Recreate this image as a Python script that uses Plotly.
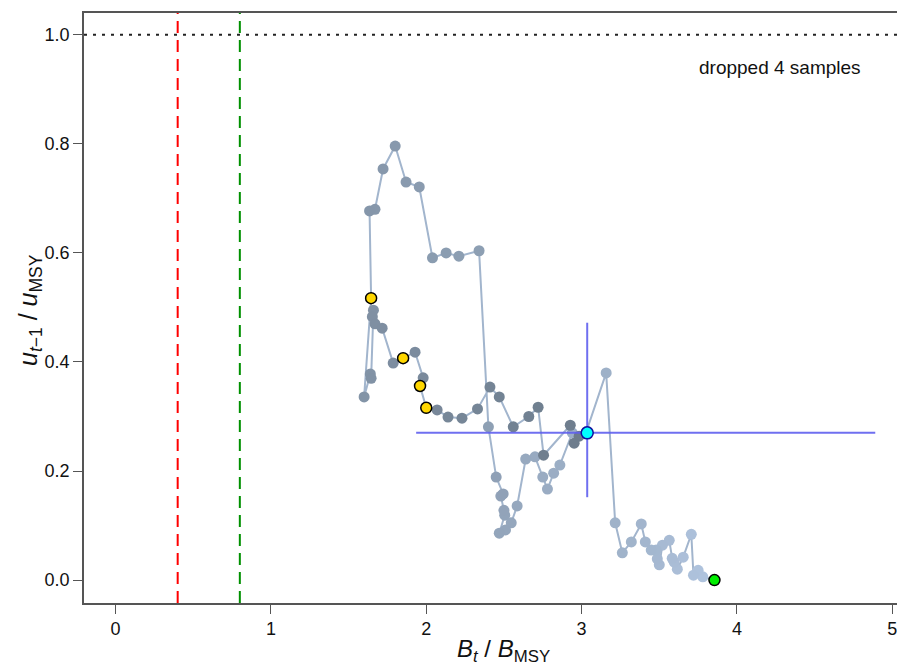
import numpy as np
import plotly.graph_objects as go

# Trajectory (chronological: first point = start, last point = final year)
b_ratio = [3.855, 3.78, 3.75, 3.72, 3.706, 3.654, 3.616, 3.596, 3.583, 3.564,
           3.52, 3.50, 3.487, 3.48, 3.448, 3.41, 3.384, 3.32, 3.262, 3.216,
           3.158, 3.03, 2.94, 2.86, 2.82, 2.78, 2.75, 2.70, 2.64, 2.585,
           2.547, 2.51, 2.47, 2.505, 2.50, 2.48, 2.495, 2.45, 2.40, 2.34,
           2.21, 2.128, 2.04, 1.955, 1.87, 1.80, 1.722, 1.67, 1.635, 1.645,
           1.60, 1.64, 1.645, 1.66, 1.653, 1.67, 1.716, 1.787, 1.851, 1.928,
           1.98, 1.96, 2.0, 2.07, 2.14, 2.23, 2.33, 2.41, 2.47, 2.56,
           2.66, 2.72, 2.755, 2.927, 2.952, 2.984, 3.036]
u_ratio = [0.0, 0.006, 0.018, 0.009, 0.084, 0.042, 0.02, 0.033, 0.04, 0.073,
           0.064, 0.028, 0.039, 0.055, 0.055, 0.07, 0.103, 0.07, 0.05, 0.105,
           0.38, 0.272, 0.27, 0.211, 0.196, 0.167, 0.189, 0.226, 0.222, 0.136,
           0.105, 0.092, 0.086, 0.119, 0.128, 0.154, 0.158, 0.189, 0.281, 0.604,
           0.594, 0.60, 0.591, 0.721, 0.73, 0.796, 0.754, 0.68, 0.677, 0.517,
           0.336, 0.378, 0.37, 0.495, 0.483, 0.47, 0.462, 0.398, 0.407, 0.418,
           0.371, 0.356, 0.316, 0.312, 0.299, 0.297, 0.314, 0.354, 0.336, 0.281,
           0.30, 0.317, 0.229, 0.284, 0.251, 0.264, 0.27]
highlight_idx = [49, 58, 61, 62]

# Reference points
lim_ref = 0.4
trg_ref = 0.8
u_ref = 1.0

# Final-year uncertainty intervals
b_int = [1.935, 4.89]
u_int = [0.152, 0.472]

x_ticks = [0, 1, 2, 3, 4, 5]
y_ticks = [0.0, 0.2, 0.4, 0.6, 0.8, 1.0]
note = "dropped 4 samples"

n = len(b_ratio)
c0 = np.array([176, 196, 222])
c1 = np.array([108, 123, 139])
cols = []
for i in range(n):
    t = i / (n - 1)
    c = c0 + (c1 - c0) * t
    cols.append("rgb(%d,%d,%d)" % tuple(c.round().astype(int)))

fig = go.Figure()

fig.add_trace(go.Scatter(x=b_ratio, y=u_ratio, mode="lines",
                         line=dict(color="#A2B5CD", width=2), hoverinfo="skip"))
fig.add_trace(go.Scatter(x=b_ratio[1:-1], y=u_ratio[1:-1], mode="markers",
                         marker=dict(color=cols[1:-1], size=11, line=dict(width=0))))

# interval crosshair
fig.add_trace(go.Scatter(x=b_int, y=[u_ratio[-1]] * 2, mode="lines",
                         line=dict(color="rgba(95,95,238,0.9)", width=2)))
fig.add_trace(go.Scatter(x=[b_ratio[-1]] * 2, y=u_int, mode="lines",
                         line=dict(color="rgba(95,95,238,0.9)", width=2)))

fig.add_trace(go.Scatter(x=[b_ratio[i] for i in highlight_idx],
                         y=[u_ratio[i] for i in highlight_idx], mode="markers",
                         marker=dict(color="#FFD700", size=11, line=dict(color="black", width=1.5))))
fig.add_trace(go.Scatter(x=[b_ratio[0]], y=[u_ratio[0]], mode="markers",
                         marker=dict(color="#00EE00", size=11, line=dict(color="black", width=1.5))))
fig.add_trace(go.Scatter(x=[b_ratio[-1]], y=[u_ratio[-1]], mode="markers",
                         marker=dict(color="#00FFFF", size=12, line=dict(color="#1010A0", width=1.5))))

fig.add_shape(type="line", xref="x", yref="paper", x0=lim_ref, x1=lim_ref, y0=0, y1=1,
              line=dict(color="#FF0000", width=2, dash="12px,7px"), layer="below")
fig.add_shape(type="line", xref="x", yref="paper", x0=trg_ref, x1=trg_ref, y0=0, y1=1,
              line=dict(color="#009000", width=2, dash="12px,7px"), layer="below")
fig.add_shape(type="line", xref="paper", yref="y", x0=0, x1=1, y0=u_ref, y1=u_ref,
              line=dict(color="#222222", width=2, dash="3px,6px"), layer="below")

fig.update_layout(
    width=897, height=666, showlegend=False,
    margin=dict(l=84, r=0, t=13, b=63),
    paper_bgcolor="white", plot_bgcolor="white",
    font=dict(family="Liberation Sans, Arial", size=18, color="#111111"),
    annotations=[
        dict(x=4.28, y=0.94, xref="x", yref="y", text=note, showarrow=False,
             font=dict(size=19)),
        dict(x=(503 - 84) / 813, y=-0.080, xref="paper", yref="paper", showarrow=False,
             xanchor="center", yanchor="middle",
             text="<i>B</i><sub><i>t</i></sub> / <i>B</i><sub>MSY</sub>",
             font=dict(size=24)),
        dict(x=(30 - 84) / 813, y=(603 - 310) / 590, xref="paper", yref="paper", showarrow=False,
             xanchor="center", yanchor="middle", textangle=-90,
             text="<i>u</i><sub><i>t</i>−1</sub> / <i>u</i><sub>MSY</sub>",
             font=dict(size=25)),
    ],
)
fig.update_xaxes(range=[-0.203, 5.03], tickvals=x_ticks, ticktext=[str(v) for v in x_ticks],
                 showgrid=False, zeroline=False, showline=True, linecolor="#555555", linewidth=1.5,
                 mirror=True, ticks="outside", ticklen=9, tickwidth=1.2, tickcolor="#555555",
                 tickfont=dict(size=18), ticklabeloverflow="allow")
fig.update_yaxes(range=[-0.042, 1.04], tickvals=y_ticks, ticktext=["%.1f" % v for v in y_ticks],
                 showgrid=False, zeroline=False, showline=True, linecolor="#555555", linewidth=1.5,
                 ticks="outside", ticklen=9, tickwidth=1.2, tickcolor="#555555",
                 tickfont=dict(size=18))

fig.write_html("out.html")
